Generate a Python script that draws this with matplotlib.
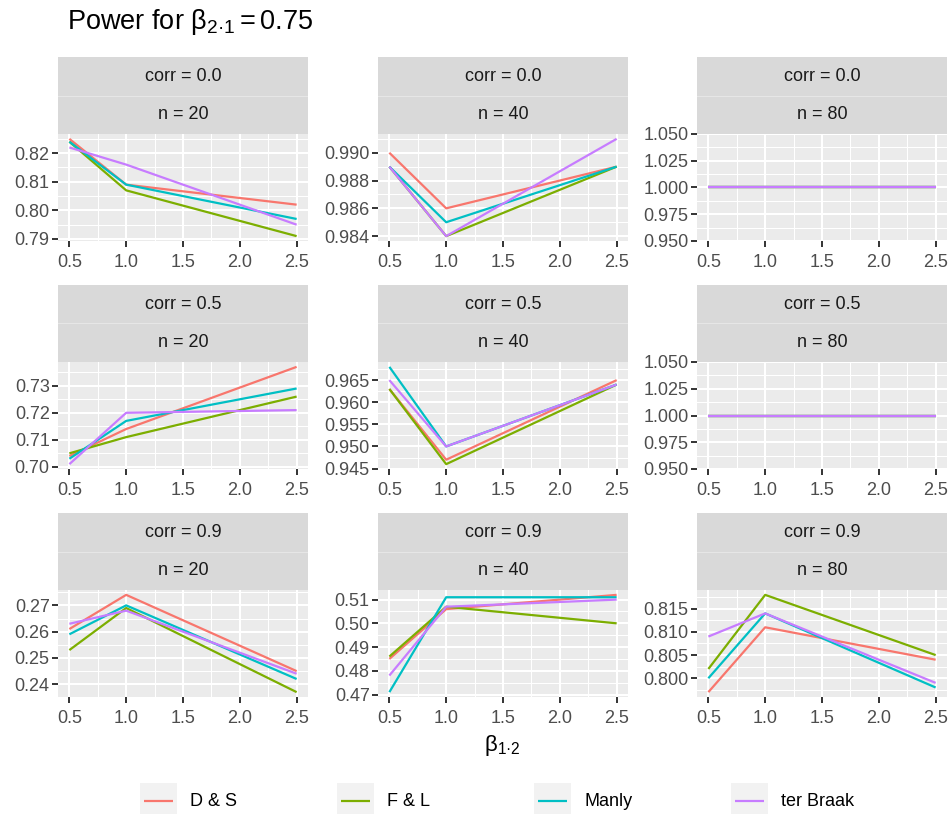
import matplotlib
matplotlib.use("Agg")
import matplotlib.pyplot as plt
from matplotlib.ticker import MultipleLocator, FormatStrFormatter
from matplotlib.patches import Rectangle

plt.rcParams['font.family'] = ['Liberation Sans', 'DejaVu Sans']
plt.rcParams['mathtext.fontset'] = 'custom'
plt.rcParams['mathtext.rm'] = 'Liberation Sans'
plt.rcParams['mathtext.it'] = 'Liberation Sans:italic'
plt.rcParams['mathtext.bf'] = 'Liberation Sans:bold'

# data
beta12 = [0.5, 1.0, 2.5]
methods = ["D & S", "F & L", "Manly", "ter Braak"]
colors = ["#F8766D", "#7CAE00", "#00BFC4", "#C77CFF"]
corrs = ["0.0", "0.5", "0.9"]
ns = [20, 40, 80]

# power[corr][n] -> one list per method
power_c00_n20 = [[0.825, 0.809, 0.802], [0.824, 0.807, 0.791], [0.824, 0.809, 0.797], [0.822, 0.816, 0.795]]
power_c00_n40 = [[0.990, 0.986, 0.989], [0.989, 0.984, 0.989], [0.989, 0.985, 0.989], [0.989, 0.984, 0.991]]
power_c00_n80 = [[1.0, 1.0, 1.0], [1.0, 1.0, 1.0], [1.0, 1.0, 1.0], [1.0, 1.0, 1.0]]
power_c05_n20 = [[0.704, 0.714, 0.737], [0.705, 0.711, 0.726], [0.703, 0.717, 0.729], [0.701, 0.720, 0.721]]
power_c05_n40 = [[0.963, 0.947, 0.965], [0.963, 0.946, 0.964], [0.968, 0.950, 0.964], [0.965, 0.950, 0.964]]
power_c05_n80 = [[1.0, 1.0, 1.0], [1.0, 1.0, 1.0], [1.0, 1.0, 1.0], [1.0, 1.0, 1.0]]
power_c09_n20 = [[0.261, 0.274, 0.245], [0.253, 0.269, 0.237], [0.259, 0.270, 0.242], [0.263, 0.268, 0.244]]
power_c09_n40 = [[0.485, 0.506, 0.512], [0.486, 0.507, 0.500], [0.471, 0.511, 0.511], [0.478, 0.507, 0.510]]
power_c09_n80 = [[0.797, 0.811, 0.804], [0.802, 0.818, 0.805], [0.800, 0.814, 0.798], [0.809, 0.814, 0.799]]

panels = [[power_c00_n20, power_c00_n40, power_c00_n80],
          [power_c05_n20, power_c05_n40, power_c05_n80],
          [power_c09_n20, power_c09_n40, power_c09_n80]]
ysteps = [[0.01, 0.002, 0.025], [0.01, 0.005, 0.025], [0.01, 0.01, 0.005]]

W, H = 951, 814
fig = plt.figure(figsize=(W / 100, H / 100), dpi=100)


def px(x, y, w, h):
    return [x / W, 1 - (y + h) / H, w / W, h / H]


lefts = [58, 378, 697]
strip_tops = [57, 285, 513]
pw, sh, ph = 250, 77, 107
FS = 13

for i, corr in enumerate(corrs):
    for j, n in enumerate(ns):
        x0, y0 = lefts[j], strip_tops[i]
        # strip
        sax = fig.add_axes(px(x0, y0, pw, sh))
        sax.set_facecolor("#D9D9D9")
        sax.set_xticks([])
        sax.set_yticks([])
        for s in sax.spines.values():
            s.set_visible(False)
        sax.axhline(0.5, color="#E6E6E6", lw=0.8)
        sax.text(0.5, 0.75, f"corr = {corr}", ha="center", va="center", fontsize=FS, color="#1A1A1A")
        sax.text(0.5, 0.25, f"n = {n}", ha="center", va="center", fontsize=FS, color="#1A1A1A")

        ax = fig.add_axes(px(x0, y0 + sh, pw, ph))
        ax.set_facecolor("#EBEBEB")
        data = panels[i][j]
        for k, m in enumerate(methods):
            ax.plot(beta12, data[k], color=colors[k], lw=1.6, solid_capstyle="butt", zorder=3)
        lo = min(min(d) for d in data)
        hi = max(max(d) for d in data)
        if hi - lo < 1e-12:
            ax.set_ylim(lo - 0.05, hi + 0.05)
        else:
            pad = 0.05 * (hi - lo)
            ax.set_ylim(lo - pad, hi + pad)
        ax.set_xlim(0.4, 2.6)
        step = ysteps[i][j]
        ax.yaxis.set_major_locator(MultipleLocator(step))
        ax.yaxis.set_minor_locator(MultipleLocator(step / 2))
        dec = 2 if step >= 0.01 else 3
        if step == 0.025:
            dec = 3
        ax.yaxis.set_major_formatter(FormatStrFormatter(f"%.{dec}f"))
        ax.xaxis.set_major_locator(MultipleLocator(0.5))
        ax.xaxis.set_minor_locator(MultipleLocator(0.25))
        ax.xaxis.set_major_formatter(FormatStrFormatter("%.1f"))
        ax.grid(which="major", color="white", lw=1.5)
        ax.grid(which="minor", color="white", lw=0.75)
        ax.set_axisbelow(True)
        for s in ax.spines.values():
            s.set_visible(False)
        ax.tick_params(which="major", length=4, width=1.4, color="#333333",
                       labelsize=FS, labelcolor="#4D4D4D", pad=2)
        ax.tick_params(axis="x", which="major", pad=5.5)
        ax.tick_params(which="minor", length=0)

fig.text(67 / W, 1 - 22 / H, r"Power for $\mathregular{\beta_{2·1} = 0.75}$",
         fontsize=19.5, ha="left", va="center", color="black")
fig.text(502 / W, 1 - 746 / H, r"$\mathregular{\beta_{1·2}}$",
         fontsize=16, ha="center", va="center", color="black")

# legend
lax = fig.add_axes([0, 0, 1, 1], zorder=-1)
lax.set_xlim(0, W)
lax.set_ylim(H, 0)
lax.axis("off")
key_x = [140, 337, 534, 731]
for k, m in enumerate(methods):
    kx = key_x[k]
    lax.add_patch(Rectangle((kx, 783), 37, 36, facecolor="#F2F2F2", edgecolor="none"))
    lax.plot([kx + 4, kx + 33], [801, 801], color=colors[k], lw=1.6, solid_capstyle="butt")
    lax.text(kx + 50, 801, m, fontsize=FS, va="center", ha="left", color="black")

fig.savefig("out.png", dpi=100)
